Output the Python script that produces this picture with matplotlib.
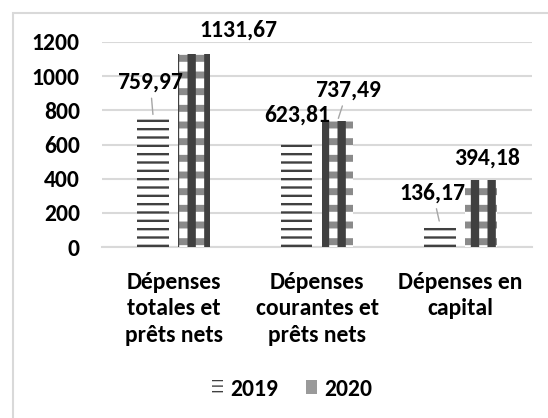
import matplotlib
matplotlib.use("Agg")
import matplotlib.pyplot as plt
import numpy as np
from matplotlib.patches import Rectangle

categories = ["Dépenses\ntotales et\nprêts nets",
              "Dépenses\ncourantes et\nprêts nets",
              "Dépenses en\ncapital"]
series_names = ["2019", "2020"]
values_2019 = [759.97, 623.81, 136.17]
values_2020 = [1131.67, 737.49, 394.18]
y_ticks = [0, 200, 400, 600, 800, 1000, 1200]


def fmt(v):
    return f"{v:.2f}".replace(".", ",")


plt.rcParams["font.family"] = ["Carlito", "DejaVu Sans"]
plt.rcParams["font.weight"] = "bold"
FS = 17

W, H = 548, 418
fig = plt.figure(figsize=(W / 100, H / 100), dpi=100)
fig.patch.set_facecolor("white")

# outer chart frame
fig.add_artist(Rectangle((13 / W, -0.1), 2, 1.1 - 13 / H,
                         transform=fig.transFigure, fill=False,
                         edgecolor="#d9d9d9", linewidth=1.5))

ax = fig.add_axes([102 / W, (H - 247) / H, (532 - 102) / W, (247 - 42) / H])
x = np.arange(len(categories))
bw = 0.223
gap = 0.063
off = (bw + gap) / 2
dark = "#404040"

with plt.rc_context({"hatch.linewidth": 1.7}):
    b19 = ax.bar(x - off, values_2019, bw, facecolor="white",
                 edgecolor=dark, linewidth=0, hatch="--", zorder=3)
    h19 = Rectangle((0, 0), 1, 1, facecolor="white", edgecolor=dark,
                    linewidth=0, hatch="---")
with plt.rc_context({"hatch.linewidth": 5.0}):
    b20a = ax.bar(x + off, values_2020, bw, facecolor="white",
                  edgecolor="#8a8a8a", linewidth=0, hatch="-", zorder=3)
with plt.rc_context({"hatch.linewidth": 6.0}):
    b20b = ax.bar(x + off, values_2020, bw, facecolor="none",
                  edgecolor=dark, linewidth=0, hatch="|", zorder=4)
h20 = Rectangle((0, 0), 1, 1, facecolor="#9a9a9a", edgecolor=dark,
                linewidth=0)

ax.set_ylim(0, 1200)
ax.set_xlim(-0.5, 2.5)
ax.set_yticks(y_ticks)
ax.set_yticklabels([str(t) for t in y_ticks], fontsize=FS, fontweight="bold")
ax.set_xticks(x)
ax.set_xticklabels(categories, fontsize=FS, fontweight="bold",
                   linespacing=1.32)
ax.tick_params(axis="y", length=0, pad=16)
ax.tick_params(axis="x", length=0, pad=18)
ax.grid(axis="y", color="#d9d9d9", linewidth=1.5, zorder=0)
for s in ["top", "right", "left"]:
    ax.spines[s].set_visible(False)
ax.spines["bottom"].set_color("#d9d9d9")
ax.spines["bottom"].set_linewidth(1.5)

# value labels (pixel offsets from bar tops), some with leader lines
label_offsets_19 = [(-3, 35, True), (1, 25, False), (-7, 31, True)]
label_offsets_20 = [(44, 24, False), (10, 31, True), (6, 22, False)]
for xs, vals, offs in [(x - off, values_2019, label_offsets_19),
                       (x + off, values_2020, label_offsets_20)]:
    for xi, v, (dx, dy, lead) in zip(xs, vals, offs):
        kw = {}
        if lead:
            kw["arrowprops"] = dict(arrowstyle="-", color="#a6a6a6", lw=1.0,
                                    shrinkA=2, shrinkB=2)
        ax.annotate(fmt(v), xy=(xi, v), xytext=(dx, dy),
                    textcoords="offset pixels", ha="center", va="center",
                    fontsize=FS, fontweight="bold", color="black",
                    annotation_clip=False, zorder=6, **kw)

leg = fig.legend([h19, h20], series_names, loc="center",
                 bbox_to_anchor=(292 / W, 1 - 389 / H), ncol=2, frameon=False,
                 handlelength=0.45, handleheight=0.5,
                 handletextpad=0.3, columnspacing=1.2,
                 prop={"weight": "bold", "size": FS})

fig.savefig("out.png", dpi=100)
